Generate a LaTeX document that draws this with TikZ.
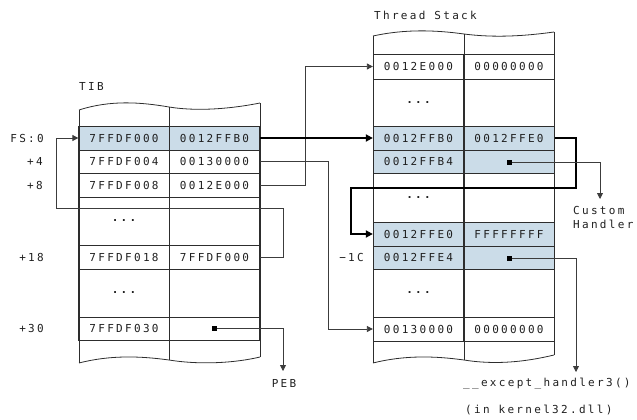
\documentclass[tikz,border=0pt]{standalone}
\usepackage{fontspec}
\newfontfamily\codefont[LetterSpace=21]{DejaVu Sans Mono}
\usetikzlibrary{arrows.meta}
\definecolor{shade}{RGB}{203,220,232}
\definecolor{tline}{RGB}{45,45,45}
\definecolor{cline}{RGB}{60,60,60}
\newcommand{\celldots}{{\bfseries ...}}
\begin{document}
\begin{tikzpicture}[x=1pt,y=-1pt,
  font={\codefont\fontsize{11}{14}\selectfont},
  cell/.style={rectangle, draw=tline, line width=0.8pt, inner sep=0pt, minimum width=90.5pt, text=black!88},
  hi/.style={cell, fill=shade},
  lbl/.style={inner sep=0pt, text=black!88},
  sq/.style={rectangle, fill=black, inner sep=0pt, minimum size=5pt},
  conn/.style={draw=cline, line width=0.8pt, -{Triangle[length=6pt,width=6pt]}},
  thick conn/.style={draw=black, line width=2.4pt, -{Triangle[length=7pt,width=7pt]}},
  edge line/.style={draw=tline, line width=0.8pt}
]
\useasboundingbox (0,0) rectangle (637,420);

% ---------- TIB ----------
\node[lbl, anchor=west] (tibtitle) at (79,86) {TIB};
\node[hi,   minimum height=24pt] (t0a) at (124,138)   {7FFDF000};
\node[hi,   minimum height=24pt] (t0b) at (214.5,138) {0012FFB0};
\node[cell, minimum height=23pt] (t1a) at (124,161.5)   {7FFDF004};
\node[cell, minimum height=23pt] (t1b) at (214.5,161.5) {00130000};
\node[cell, minimum height=24pt] (t2a) at (124,185)   {7FFDF008};
\node[cell, minimum height=24pt] (t2b) at (214.5,185) {0012E000};
\node[cell, minimum height=48pt] (t3a) at (124,221)   {\celldots};
\node[cell, minimum height=48pt] (t3b) at (214.5,221) {};
\node[cell, minimum height=24pt] (t4a) at (124,257)   {7FFDF018};
\node[cell, minimum height=24pt] (t4b) at (214.5,257) {7FFDF000};
\node[cell, minimum height=48pt] (t5a) at (124,293)   {\celldots};
\node[cell, minimum height=48pt] (t5b) at (214.5,293) {};
\node[cell, minimum height=23pt] (t6a) at (124,328.5)   {7FFDF030};
\node[cell, minimum height=23pt] (t6b) at (214.5,328.5) {};
\node[sq] (sqp) at (214,328) {};

% TIB outline
\path[edge line] (79,110) .. controls (110,100) and (140,102) .. (169,107)
  .. controls (200,112) and (235,108) .. (260,103);
\path[edge line] (79,363) .. controls (110,355) and (140,356) .. (169,360)
  .. controls (200,365) and (235,363) .. (260,357);
\path[edge line] (79,110) -- (79,363);
\path[edge line] (169,107) -- (169,360);
\path[edge line] (260,103) -- (260,357);

% TIB offsets
\node[lbl, anchor=east] (lfs) at (44,138) {FS:0};
\node[lbl, anchor=east] (l4)  at (43,161.5) {+4};
\node[lbl, anchor=east] (l8)  at (43,185) {+8};
\node[lbl, anchor=east] (l18) at (44,257) {+18};
\node[lbl, anchor=east] (l30) at (44,328.5) {+30};

% ---------- Thread stack ----------
\node[lbl, anchor=west] (tstitle) at (374,15) {Thread Stack};
\node[cell, minimum height=25pt] (s0a) at (418.5,66.5) {0012E000};
\node[cell, minimum height=25pt] (s0b) at (509,66.5)   {00000000};
\node[cell, minimum height=47pt] (s1a) at (418.5,102.5) {\celldots};
\node[cell, minimum height=47pt] (s1b) at (509,102.5)   {};
\node[hi,   minimum height=24pt] (s2a) at (418.5,138) {0012FFB0};
\node[hi,   minimum height=24pt] (s2b) at (509,138)   {0012FFE0};
\node[hi,   minimum height=23pt] (s3a) at (418.5,161.5) {0012FFB4};
\node[hi,   minimum height=23pt] (s3b) at (509,161.5)   {};
\node[cell, minimum height=49pt] (s4a) at (418.5,197.5) {\celldots};
\node[cell, minimum height=49pt] (s4b) at (509,197.5)   {};
\node[hi,   minimum height=24pt] (s5a) at (418.5,234) {0012FFE0};
\node[hi,   minimum height=24pt] (s5b) at (509,234)   {FFFFFFFF};
\node[hi,   minimum height=23pt] (s6a) at (418.5,257.5) {0012FFE4};
\node[hi,   minimum height=23pt] (s6b) at (509,257.5)   {};
\node[cell, minimum height=48pt] (s7a) at (418.5,293) {\celldots};
\node[cell, minimum height=48pt] (s7b) at (509,293)   {};
\node[cell, minimum height=24pt] (s8a) at (418.5,329) {00130000};
\node[cell, minimum height=24pt] (s8b) at (509,329)   {00000000};
\node[sq] (sq1) at (509,162) {};
\node[sq] (sq2) at (509,258) {};

% Thread stack outline
\path[edge line] (373,36) .. controls (405,29) and (435,30) .. (464,34)
  .. controls (495,38) and (525,36) .. (554,32);
\path[edge line] (373,363) .. controls (405,355) and (435,356) .. (464,360)
  .. controls (495,365) and (525,362) .. (554,355);
\path[edge line] (373,36) -- (373,363);
\path[edge line] (464,34) -- (464,360);
\path[edge line] (554,32) -- (554,355);

\node[lbl, anchor=east] (l1c) at (364,257.5) {−1C};

% ---------- texts at ends ----------
\node[lbl, anchor=north west, align=left] (custom) at (573,206) {Custom\\Handler};
\node[lbl] (peb) at (284,383) {PEB};
\node[lbl, anchor=west] (exh) at (463,384) {\_\_except\_handler3()};
\node[lbl, anchor=west] (k32) at (465,410) {(in kernel32.dll)};

% ---------- connectors ----------
\coordinate (loopA) at (283,208);
\coordinate (loopB) at (56,208);
\coordinate (th1) at (576,188);
\coordinate (th2) at (351,188);
\coordinate (chend) at (600,199);
\coordinate (exend) at (576,372);
\coordinate (pebend) at (283,371);

\draw[conn] (t4b.east) -| (loopA) -- (loopB) |- (t0a.west);
\draw[conn] (t2b.east) -- ++(45,0) |- (s0a.west);
\draw[conn] (t1b.east) -- ++(68,0) |- (s8a.west);
\draw[thick conn] (t0b.east) -- (s2a.west);
\draw[thick conn] (s2b.east) -| (th1) -- (th2) |- (s5a.west);
\draw[conn] (sq1.east) -| (chend);
\draw[conn] (sq2.east) -| (exend);
\draw[conn] (sqp.east) -| (pebend);
\end{tikzpicture}
\end{document}
